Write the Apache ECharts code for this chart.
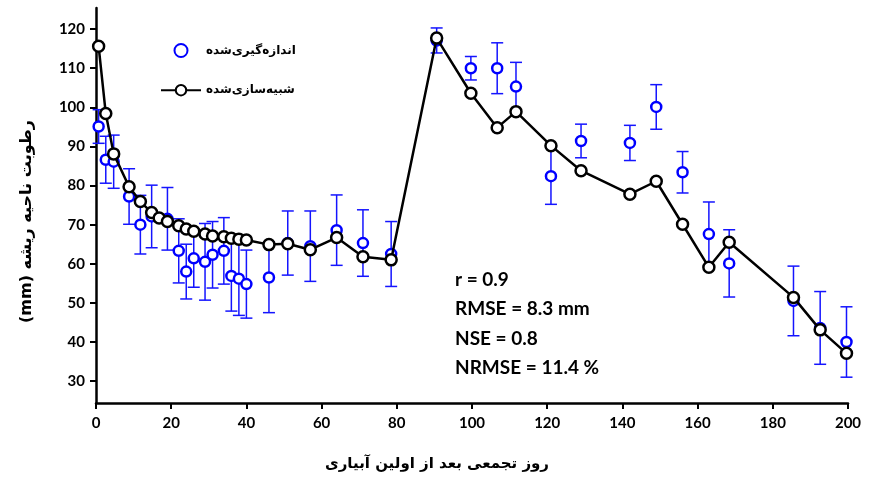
<!DOCTYPE html>
<html>
<head>
<meta charset="utf-8">
<script src="https://cdn.jsdelivr.net/npm/echarts@6/dist/echarts.min.js"></script>
<style>
  html, body { margin: 0; padding: 0; background: #fff; }
  #chart { width: 870px; height: 478px; }
</style>
</head>
<body>
<div id="chart"></div>
<script>
// measured (blue) points
const measDays = [0.7, 2.6, 4.7, 8.8, 11.8, 14.8, 19, 22, 24, 26, 29, 31, 34, 36, 38, 40, 46, 51, 57, 64, 71, 78.5, 90.6, 99.7, 106.7, 111.7, 121, 129, 142, 149, 156, 163, 168.4, 185.5, 192.6, 199.6]
const measValues = [95.1, 86.6, 86.1, 77.2, 70.0, 72.1, 71.5, 63.3, 58.0, 61.4, 60.5, 62.3, 63.3, 56.9, 56.2, 54.8, 56.5, 65.3, 64.5, 68.6, 65.3, 62.5, 117.1, 110.0, 110.0, 105.3, 82.4, 91.4, 90.9, 100.1, 83.4, 67.6, 60.1, 50.5, 43.6, 40.0]
const measErr = [4.3, 6.0, 6.8, 7.1, 7.5, 8.0, 8.0, 8.2, 7.0, 7.4, 9.8, 8.5, 8.5, 9.0, 9.4, 8.7, 9.0, 8.2, 9.0, 9.0, 8.5, 8.3, 3.2, 3.0, 6.5, 6.2, 7.2, 4.3, 4.5, 5.7, 5.3, 8.2, 8.6, 8.9, 9.3, 9.0]

// simulated (black) line
const simDays = [0.7, 2.6, 4.7, 8.8, 11.8, 14.8, 16.8, 19, 22, 24, 26, 29, 31, 34, 36, 38, 40, 46, 51, 57, 64, 71, 78.5, 90.6, 99.7, 106.7, 111.7, 121, 129, 142, 149, 156, 163, 168.4, 185.5, 192.6, 199.6]
const simValues = [115.6, 98.4, 88.1, 79.7, 75.9, 73.1, 71.7, 70.8, 69.7, 68.9, 68.3, 67.6, 67.1, 66.9, 66.5, 66.3, 66.1, 64.9, 65.1, 63.6, 66.7, 61.8, 61.0, 117.7, 103.6, 94.8, 98.9, 90.2, 83.8, 77.8, 81.1, 70.1, 59.1, 65.5, 51.4, 43.1, 37.1]

const yTicks = [30, 40, 50, 60, 70, 80, 90, 100, 110, 120]
const statLines = ['r = 0.9', 'RMSE = 8.3 mm', 'NSE = 0.8', 'NRMSE = 11.4 %']

const measName = 'اندازه‌گیری‌شده'
const simName = 'شبیه‌سازی‌شده'
const labelFont = 'Lato'
const faFont = 'DejaVu Sans'

var chart = echarts.init(document.getElementById('chart'))

const errData = measDays.map((d, i) => [d, measValues[i] - measErr[i], measValues[i] + measErr[i]])

function renderErr(params, api) {
  const x = api.value(0)
  const top = api.coord([x, api.value(2)])
  const bot = api.coord([x, api.value(1)])
  const hw = 6
  const st = { stroke: '#1414ff', lineWidth: 1.5 }
  return {
    type: 'group',
    children: [
      { type: 'line', shape: { x1: top[0], y1: top[1], x2: bot[0], y2: bot[1] }, style: st },
      { type: 'line', shape: { x1: top[0] - hw, y1: top[1], x2: top[0] + hw, y2: top[1] }, style: st },
      { type: 'line', shape: { x1: bot[0] - hw, y1: bot[1], x2: bot[0] + hw, y2: bot[1] }, style: st }
    ]
  }
}

var option = {
  animation: false,
  backgroundColor: '#fff',
  grid: { left: 96, right: 22, top: 8, bottom: 75, outerBoundsMode: 'none' },
  legend: {
    left: 155, top: 38, orient: 'vertical',
    itemWidth: 40, itemHeight: 13, itemGap: 26,
    data: [measName, simName],
    textStyle: { fontFamily: faFont, fontWeight: 'bold', fontSize: 12, color: '#000' }
  },
  xAxis: {
    type: 'value', min: 0, max: 200, interval: 20,
    name: 'روز تجمعی بعد از اولین آبیاری',
    nameLocation: 'middle', nameGap: 54,
    nameTextStyle: { fontFamily: faFont, fontWeight: 'bold', fontSize: 15, color: '#000', padding: [0, 70, 0, 0] },
    axisLine: { lineStyle: { color: '#000', width: 2.5 } },
    axisTick: { show: true, length: 6, lineStyle: { color: '#000', width: 2 } },
    axisLabel: { fontFamily: labelFont, fontWeight: 'bold', fontSize: 15, color: '#000', margin: 13 },
    splitLine: { show: false }
  },
  yAxis: {
    type: 'value', min: 24.4, max: 125.4,
    name: '(mm) رطوبت ناحیه ریشه',
    nameLocation: 'middle', nameGap: 61,
    nameTextStyle: { fontFamily: faFont, fontWeight: 'bold', fontSize: 16, color: '#000', padding: [0, 32, 0, 0] },
    axisLine: { show: true, lineStyle: { color: '#000', width: 2.5 } },
    axisTick: { show: true, length: 6, customValues: yTicks, lineStyle: { color: '#000', width: 2 } },
    axisLabel: { customValues: yTicks, fontFamily: labelFont, fontWeight: 'bold', fontSize: 15, color: '#000', margin: 11 },
    splitLine: { show: false }
  },
  graphic: statLines.map((t, i) => ({
    type: 'text', left: 455, top: 270 + i * 29.5,
    style: { text: t, fontFamily: labelFont, fontWeight: 'bold', fontSize: 19, fill: '#000' }
  })),
  series: [
    {
      type: 'custom',
      renderItem: renderErr,
      data: errData,
      encode: { x: 0, y: [1, 2] },
      z: 1,
      silent: true
    },
    {
      name: measName,
      type: 'scatter',
      data: measDays.map((d, i) => [d, measValues[i]]),
      symbol: 'circle',
      symbolSize: 10,
      itemStyle: { color: '#fff', borderColor: '#0000ff', borderWidth: 2.5, opacity: 1 },
      z: 2
    },
    {
      name: simName,
      type: 'line',
      data: simDays.map((d, i) => [d, simValues[i]]),
      symbol: 'circle',
      symbolSize: 11,
      showAllSymbol: true,
      lineStyle: { color: '#000', width: 2.5 },
      itemStyle: { color: '#fff', borderColor: '#000', borderWidth: 2.5 },
      z: 3
    }
  ]
}
chart.setOption(option)
</script>
</body>
</html>
